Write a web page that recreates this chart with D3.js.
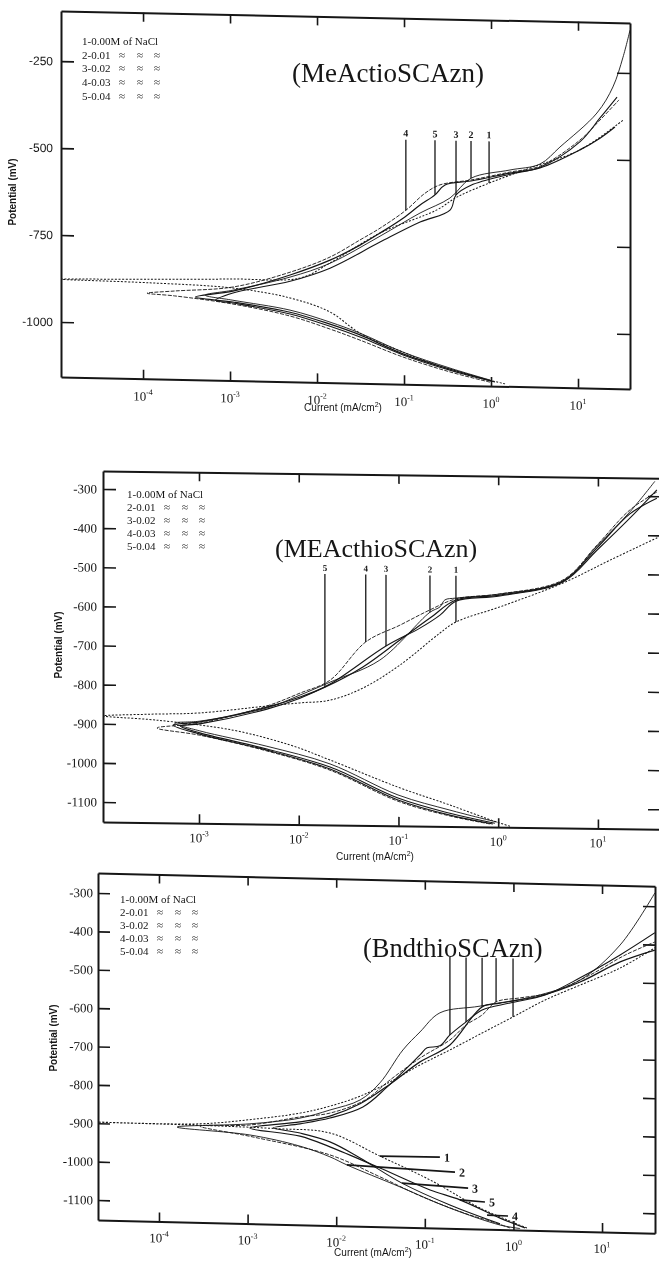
<!DOCTYPE html>
<html>
<head>
<meta charset="utf-8">
<script src="https://cdn.jsdelivr.net/npm/d3@7"></script>
<style>
  body { margin: 0; background: #fff; }
  svg { display: block; will-change: transform; }
</style>
</head>
<body>
<svg id="chart" width="659" height="1261"></svg>
<script>
// ---- data: [current mA/cm2, potential mV], cathodic end -> Ecorr -> anodic end ----
const p1c1 = [[1.45,-1151],[0.34,-1114],[0.0975,-1066],[0.0312,-1014],[0.0141,-955],[4.9e-3,-917],[1.08e-3,-892],[1.2e-4,-882],[1.15e-5,-877],[1.2e-4,-872],[1.08e-3,-866],[6.4e-3,-859],[0.0141,-814],[0.053,-725],[0.239,-655],[0.406,-617],[0.95,-575],[2.8,-529],[10.5,-474],[32.9,-386]];
const p1c2 = [[0.975,-1141],[0.338,-1109],[0.0975,-1066],[0.0312,-1014],[0.0141,-984],[4.9e-3,-952],[1.08e-3,-927],[5.2e-4,-914],[1.08e-3,-898],[4.9e-3,-857],[0.0141,-815],[0.053,-734],[0.153,-665],[0.338,-620],[0.589,-562],[1.65,-536],[3.66,-517],[6.2,-467],[16.5,-367],[25.2,-291],[32.9,-205],[39.6,-127]];
const p1c3 = [[1.11,-1146],[0.338,-1115],[0.0975,-1074],[0.0312,-1025],[0.0141,-996],[4.9e-3,-963],[1.08e-3,-935],[6.8e-4,-928],[1.08e-3,-906],[4.9e-3,-869],[0.0141,-829],[0.053,-751],[0.153,-691],[0.338,-655],[0.396,-611],[0.589,-582],[1.65,-548],[3.66,-526],[10.5,-451],[17.9,-381],[28.1,-320]];
const p1c4 = [[0.975,-1147],[0.338,-1120],[0.0975,-1080],[0.0312,-1034],[0.0141,-1004],[4.9e-3,-969],[1.08e-3,-938],[2.3e-4,-918],[1.11e-4,-912],[2.3e-4,-904],[1.08e-3,-889],[4.9e-3,-843],[0.0141,-797],[0.0312,-746],[0.053,-711],[0.105,-658],[0.174,-608],[0.259,-583],[0.589,-567],[1.65,-542],[3.66,-523],[10.5,-446],[17.9,-387],[29.6,-328]];
const p1c5 = [[1.03,-1144],[0.338,-1112],[0.0975,-1071],[0.0312,-1019],[0.0141,-990],[4.9e-3,-958],[1.08e-3,-932],[4e-4,-920],[1.08e-3,-901],[4.9e-3,-851],[0.0141,-806],[0.0312,-761],[0.053,-725],[0.0975,-681],[0.153,-642],[0.227,-612],[0.296,-583],[0.589,-570],[1.65,-545],[3.66,-528],[10.5,-474],[17.9,-439],[26.6,-406]];

const p2c1 = [[1.31,-1148],[0.97,-1138],[0.328,-1096],[0.0989,-1052],[0.0206,-985],[8.2e-3,-948],[2.2e-3,-912],[3.8e-4,-889],[1.09e-4,-880],[3.2e-4,-874],[1.02e-3,-869],[4.8e-3,-849],[0.0103,-840],[0.0206,-832],[0.044,-800],[0.1035,-740],[0.26,-657],[0.377,-628],[1.04,-588],[4.46,-525],[13.2,-465],[40.8,-404]];
const p2c2 = [[0.97,-1138],[0.328,-1109],[0.0989,-1072],[0.0206,-995],[4.8e-3,-952],[1.02e-3,-915],[5.7e-4,-896],[1.02e-3,-890],[4.8e-3,-854],[0.0103,-820],[0.0206,-786],[0.065,-728],[0.207,-604],[0.261,-590],[0.292,-572],[0.377,-567],[1.04,-555],[4.46,-520],[9.77,-429],[20.9,-341],[37.2,-262]];
const p2c3 = [[0.927,-1141],[0.328,-1117],[0.0989,-1080],[0.0206,-1003],[4.8e-3,-959],[1.02e-3,-920],[6.5e-4,-903],[1.02e-3,-897],[4.8e-3,-857],[0.0103,-828],[0.0206,-791],[0.075,-692],[0.164,-645],[0.261,-611],[0.377,-575],[1.04,-560],[4.46,-522],[9.77,-440],[20.9,-357],[39.0,-284]];
const p2c4 = [[0.826,-1143],[0.328,-1124],[0.0989,-1088],[0.0206,-1011],[4.8e-3,-964],[1.02e-3,-926],[3.8e-4,-909],[1.02e-3,-895],[4.8e-3,-849],[0.0103,-815],[0.0206,-781],[0.047,-682],[0.1035,-638],[0.207,-598],[0.377,-569],[1.04,-555],[4.46,-517],[9.77,-427],[20.9,-336],[39.0,-289]];
const p2c5 = [[0.885,-1143],[0.328,-1122],[0.0989,-1085],[0.0206,-1008],[4.8e-3,-962],[1.02e-3,-923],[5.5e-4,-901],[1.02e-3,-892],[4.8e-3,-852],[0.0103,-825],[0.0183,-799],[0.044,-746],[0.1035,-676],[0.207,-619],[0.377,-572],[1.04,-558],[4.46,-520],[9.77,-434],[20.9,-346],[39.0,-305]];

const p3c1 = [[1.42,-1146],[0.42,-1097],[0.1146,-1027],[0.0312,-968],[8.5e-3,-911],[2.15e-3,-903],[2.9e-4,-899],[2.05e-5,-897],[2.9e-4,-895],[1.15e-3,-880],[3.9e-3,-861],[8.5e-3,-841],[0.0186,-813],[0.0405,-774],[0.0883,-728],[0.192,-687],[0.443,-641],[0.99,-597],[2.28,-551],[5.65,-510],[16.0,-463],[39.5,-408]];
const p3c2 = [[1.19,-1148],[0.706,-1140],[0.192,-1099],[0.0525,-1047],[0.0132,-993],[8.5e-3,-973],[3.9e-3,-947],[1.06e-3,-921],[1.6e-4,-905],[1.06e-3,-892],[3.9e-3,-874],[8.5e-3,-851],[0.0186,-823],[0.0312,-777],[0.0566,-690],[0.0883,-642],[0.148,-591],[0.42,-571],[2.0,-538],[5.65,-497],[16.0,-403],[39.5,-265]];
const p3c3 = [[0.706,-1137],[0.192,-1091],[0.0552,-1037],[0.0186,-974],[8.5e-3,-934],[3.9e-3,-913],[1.94e-3,-901],[3.9e-3,-889],[8.5e-3,-872],[0.020,-841],[0.0374,-788],[0.0883,-702],[0.106,-683],[0.148,-677],[0.192,-648],[0.292,-613],[0.443,-581],[0.916,-561],[2.28,-538],[5.65,-491],[16.0,-429],[39.5,-369]];
const p3c4 = [[0.916,-1147],[0.504,-1128],[0.324,-1116],[0.0953,-1072],[0.0312,-1022],[8.5e-3,-968],[1.15e-3,-926],[2.9e-4,-901],[1.06e-3,-895],[3.9e-3,-871],[8.5e-3,-859],[0.0211,-823],[0.0405,-769],[0.0883,-710],[0.192,-661],[0.292,-621],[0.443,-594],[0.637,-559],[1.19,-547],[2.59,-532],[7.33,-483],[18.2,-429],[39.5,-393]];
const p3c5 = [[1.35,-1146],[0.706,-1122],[0.249,-1077],[0.1146,-1053],[0.0312,-999],[8.5e-3,-947],[3.9e-3,-921],[1.06e-3,-903],[3.9e-3,-884],[8.5e-3,-867],[0.0186,-833],[0.0405,-780],[0.0883,-720],[0.192,-674],[0.443,-573],[0.706,-562],[2.0,-541],[5.65,-502],[16.0,-447],[39.5,-414]];

// curve number labels: [text, current, potential where the pointer meets the curve]
const p1Labels = [["4",0.105,-658],["5",0.227,-612],["3",0.396,-611],["2",0.589,-562],["1",0.95,-575]];
const p2Labels = [["5",0.0183,-799],["4",0.047,-682],["3",0.075,-692],["2",0.207,-604],["1",0.377,-628]];
const p3Labels = [["",0.192,-648],["",0.292,-613],["",0.443,-573],["",0.637,-559],["",0.99,-597]];
// cathodic leaders in panel 3: [text, i from, E from, i to, E to]
const p3Leaders = [["1",0.0312,-968,0.148,-967],["2",0.0132,-993,0.219,-1005],["3",0.0552,-1037,0.308,-1046],["5",0.249,-1077,0.477,-1081],["4",0.504,-1115,0.869,-1116]];

const xTicksP1 = [1e-4,1e-3,1e-2,1e-1,1,10];
const xTicksP2 = [1e-3,1e-2,1e-1,1,10];
const xTicksP3 = [1e-4,1e-3,1e-2,1e-1,1,10];
const yTicksP1 = [-250,-500,-750,-1000];
const yTicksP23 = [-300,-400,-500,-600,-700,-800,-900,-1000,-1100];

const legendMain = ["1-0.00M of NaCl","2-0.01","3-0.02","4-0.03","5-0.04"];
const titles = ["(MeActioSCAzn)","(MEActhioSCAzn)","(BndthioSCAzn)"];

const ink = "#161616";
const serif = "'Liberation Serif','Times New Roman',serif";
const sans = "'Liberation Sans',Arial,sans-serif";
const curveStyle = [
  {w: 1.0, dash: "2,1.6"},
  {w: 0.9, dash: null},
  {w: 1.1, dash: null},
  {w: 0.9, dash: "4,1.4"},
  {w: 1.2, dash: null}
];

const svg = d3.select("#chart");
svg.append("rect").attr("width", 659).attr("height", 1261).attr("fill", "#fff");

const panels = [
  {id: 1, left: 61, top: 11, width: 569, height: 366, skew: 1.2,
   xDomain: [1.14e-5, 39.6], yDomain: [-1158, -106], xTicks: xTicksP1, yTicks: yTicksP1,
   curves: [p1c1, p1c2, p1c3, p1c4, p1c5], labels: p1Labels, labelTop: -455, labelSize: 10,
   yFamily: sans, yFontSize: 12, yTick: 13, yPad: 8, xLabOff: 22,
   legend: {x: 82, y: 45, dy: 13.7}, title: {x: 292, y: 82, size: 27},
   xlabel: {x: 343, y: 411}, ylabel: {x: 16, y: 192}},
  {id: 2, left: 103, top: 471, width: 558, height: 351, skew: 0.75,
   xDomain: [1.09e-4, 42.9], yDomain: [-1151, -254], xTicks: xTicksP2, yTicks: yTicksP23,
   curves: [p2c1, p2c2, p2c3, p2c4, p2c5], labels: p2Labels, labelTop: -510, labelSize: 9,
   yFamily: serif, yFontSize: 13, yTick: 13, yPad: 6, xLabOff: 19,
   legend: {x: 127, y: 498, dy: 13}, title: {x: 275, y: 557, size: 26},
   xlabel: {x: 375, y: 860}, ylabel: {x: 62, y: 645}},
  {id: 3, left: 98, top: 873, width: 557, height: 347, skew: 1.37,
   xDomain: [2.05e-5, 39.6], yDomain: [-1152, -248], xTicks: xTicksP3, yTicks: yTicksP23,
   curves: [p3c1, p3c2, p3c3, p3c4, p3c5], labels: p3Labels, labelTop: -445, labelSize: 10, leaders: p3Leaders,
   yFamily: serif, yFontSize: 13, yTick: 12, yPad: 5, xLabOff: 21,
   legend: {x: 120, y: 903, dy: 13}, title: {x: 363, y: 957, size: 26.5},
   xlabel: {x: 373, y: 1256}, ylabel: {x: 57, y: 1038}}
];

function styleAxis(a) {
  a.select(".domain").attr("stroke", ink).attr("stroke-width", 2);
  a.selectAll(".tick line").attr("stroke", ink).attr("stroke-width", 1.6);
}

function drawPanel(p, idx) {
  const g = svg.append("g")
    .attr("transform", `translate(${p.left},${p.top}) skewY(${p.skew})`);

  const x = d3.scaleLog().domain(p.xDomain).range([0, p.width]);
  const y = d3.scaleLinear().domain(p.yDomain).range([p.height, 0]);

  g.append("clipPath").attr("id", "clip" + p.id)
    .append("rect").attr("width", p.width).attr("height", p.height);

  const line = d3.line()
    .x(d => x(d[0]))
    .y(d => y(d[1]))
    .curve(d3.curveCatmullRom.alpha(0.5));

  g.append("g")
      .attr("clip-path", `url(#clip${p.id})`)
      .attr("fill", "none")
    .selectAll("path")
    .data(p.curves)
    .join("path")
      .attr("d", line)
      .attr("stroke", ink)
      .attr("stroke-width", (d, k) => curveStyle[k].w)
      .attr("stroke-dasharray", (d, k) => curveStyle[k].dash);

  // frame + inward ticks
  const bottom = g.append("g").attr("transform", `translate(0,${p.height})`)
    .call(d3.axisBottom(x).tickValues(p.xTicks).tickSizeInner(-9).tickSizeOuter(0).tickFormat(""));
  const top = g.append("g")
    .call(d3.axisTop(x).tickValues(p.xTicks).tickSizeInner(-9).tickSizeOuter(0).tickFormat(""));
  const right = g.append("g").attr("transform", `translate(${p.width},0)`)
    .call(d3.axisRight(y).tickValues(p.yTicks).tickSizeInner(-p.yTick).tickSizeOuter(0).tickFormat(""));
  const left = g.append("g")
    .call(d3.axisLeft(y).tickValues(p.yTicks).tickSizeInner(-p.yTick).tickSizeOuter(0)
      .tickPadding(p.yPad).tickFormat(d => String(d)));
  [bottom, top, right, left].forEach(styleAxis);
  left.selectAll("text")
    .attr("font-family", p.yFamily)
    .attr("font-size", p.yFontSize)
    .attr("fill", ink);

  // power-of-ten tick labels
  g.append("g")
      .attr("font-family", serif)
      .attr("font-size", 13)
      .attr("fill", ink)
      .attr("text-anchor", "middle")
    .selectAll("text")
    .data(p.xTicks)
    .join("text")
      .attr("x", d => x(d))
      .attr("y", p.height + p.xLabOff)
      .each(function(d) {
        const t = d3.select(this);
        t.append("tspan").text("10");
        t.append("tspan").attr("font-size", 8).attr("dy", -6).text(Math.round(Math.log10(d)));
      });

  // numbered pointers onto the curves
  const lab = g.append("g");
  lab.selectAll("line")
    .data(p.labels)
    .join("line")
      .attr("x1", d => x(d[1])).attr("x2", d => x(d[1]))
      .attr("y1", y(p.labelTop)).attr("y2", d => y(d[2]))
      .attr("stroke", ink).attr("stroke-width", 1.3);
  lab.selectAll("text")
    .data(p.labels.filter(d => d[0]))
    .join("text")
      .attr("x", d => x(d[1]))
      .attr("y", y(p.labelTop) - 3)
      .attr("text-anchor", "middle")
      .attr("font-family", serif)
      .attr("font-size", p.labelSize)
      .attr("font-weight", "bold")
      .attr("fill", ink)
      .text(d => d[0]);

  if (p.leaders) {
    const ld = g.append("g");
    ld.selectAll("line")
      .data(p.leaders)
      .join("line")
        .attr("x1", d => x(d[1])).attr("y1", d => y(d[2]))
        .attr("x2", d => x(d[3])).attr("y2", d => y(d[4]))
        .attr("stroke", ink).attr("stroke-width", 1.6);
    ld.selectAll("text")
      .data(p.leaders)
      .join("text")
        .attr("x", d => x(d[3]) + 4)
        .attr("y", d => y(d[4]))
        .attr("dy", "0.35em")
        .attr("font-family", serif)
        .attr("font-size", 12)
        .attr("font-weight", "bold")
        .attr("fill", ink)
        .text(d => d[0]);
  }

  // legend
  const leg = svg.append("g")
    .attr("font-family", serif)
    .attr("font-size", 11)
    .attr("fill", ink);
  legendMain.forEach((s, k) => {
    const yy = p.legend.y + k * p.legend.dy;
    leg.append("text").attr("x", p.legend.x).attr("y", yy).text(s);
    if (k > 0) {
      [37, 55, 72].forEach(off => {
        leg.append("text").attr("x", p.legend.x + off).attr("y", yy).text("\u2248");
      });
    }
  });

  // title
  svg.append("text")
    .attr("x", p.title.x)
    .attr("y", p.title.y)
    .attr("font-family", serif)
    .attr("font-size", p.title.size)
    .attr("fill", ink)
    .text(titles[idx]);

  // axis titles
  const xl = svg.append("text")
    .attr("x", p.xlabel.x)
    .attr("y", p.xlabel.y)
    .attr("text-anchor", "middle")
    .attr("font-family", sans)
    .attr("font-size", 10)
    .attr("fill", ink)
    .text("Current (mA/cm");
  xl.append("tspan").attr("font-size", 7).attr("dy", -4).text("2");
  xl.append("tspan").attr("dy", 4).text(")");

  svg.append("text")
    .attr("transform", `translate(${p.ylabel.x},${p.ylabel.y}) rotate(-90)`)
    .attr("text-anchor", "middle")
    .attr("font-family", sans)
    .attr("font-size", 10)
    .attr("font-weight", "bold")
    .attr("fill", ink)
    .text("Potential (mV)");
}

panels.forEach(drawPanel);
</script>
</body>
</html>
